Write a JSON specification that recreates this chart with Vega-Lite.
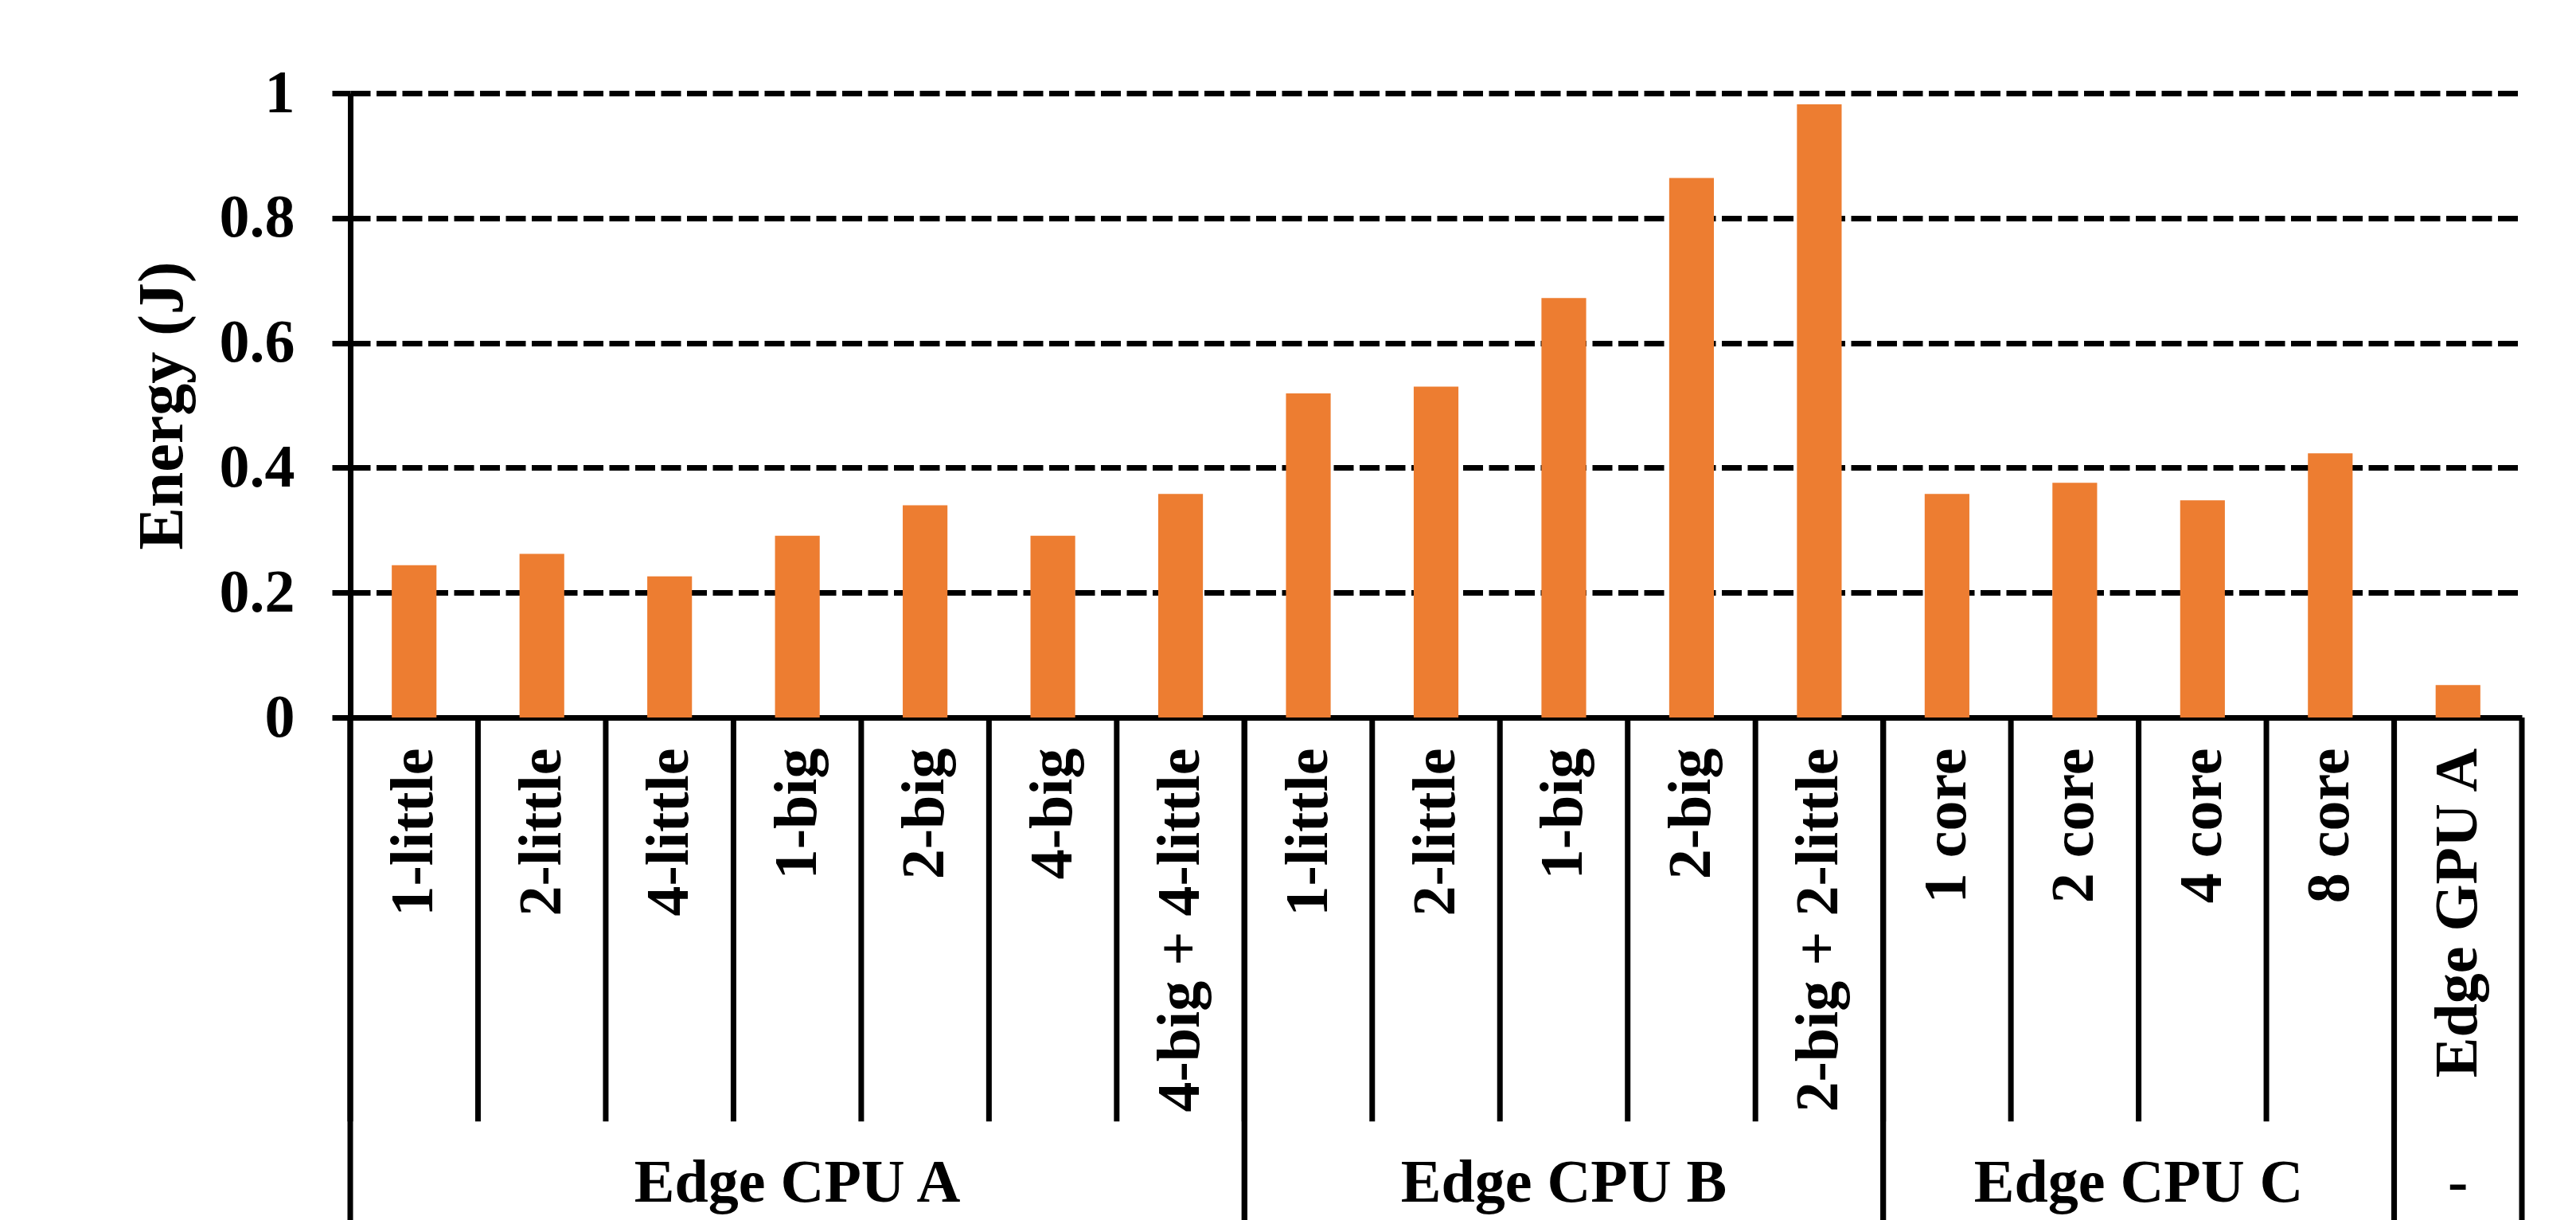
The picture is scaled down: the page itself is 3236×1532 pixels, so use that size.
{
  "$schema": "https://vega.github.io/schema/vega-lite/v6.json",
  "width": 2728,
  "height": 784,
  "autosize": {"type": "none"},
  "padding": {"left": 440, "top": 117, "right": 68, "bottom": 631},
  "background": "white",
  "config": {
    "view": {"stroke": null},
    "font": "Liberation Serif"
  },
  "datasets": {
    "energy": [
      {"id": "A|1-little", "group": "Edge CPU A", "energy": 0.244},
      {"id": "A|2-little", "group": "Edge CPU A", "energy": 0.262},
      {"id": "A|4-little", "group": "Edge CPU A", "energy": 0.226},
      {"id": "A|1-big", "group": "Edge CPU A", "energy": 0.291},
      {"id": "A|2-big", "group": "Edge CPU A", "energy": 0.340},
      {"id": "A|4-big", "group": "Edge CPU A", "energy": 0.291},
      {"id": "A|4-big + 4-little", "group": "Edge CPU A", "energy": 0.358},
      {"id": "B|1-little", "group": "Edge CPU B", "energy": 0.519},
      {"id": "B|2-little", "group": "Edge CPU B", "energy": 0.530},
      {"id": "B|1-big", "group": "Edge CPU B", "energy": 0.672},
      {"id": "B|2-big", "group": "Edge CPU B", "energy": 0.864},
      {"id": "B|2-big + 2-little", "group": "Edge CPU B", "energy": 0.982},
      {"id": "C|1 core", "group": "Edge CPU C", "energy": 0.358},
      {"id": "C|2 core", "group": "Edge CPU C", "energy": 0.376},
      {"id": "C|4 core", "group": "Edge CPU C", "energy": 0.348},
      {"id": "C|8 core", "group": "Edge CPU C", "energy": 0.423},
      {"id": "G|Edge GPU A", "group": "-", "energy": 0.052}
    ],
    "groups": [
      {"group": "Edge CPU A", "first": "A|1-little", "last": "A|4-big + 4-little", "mid": "A|1-big"},
      {"group": "Edge CPU B", "first": "B|1-little", "last": "B|2-big + 2-little", "mid": "B|1-big"},
      {"group": "Edge CPU C", "first": "C|1 core", "last": "C|8 core", "mid": "C|4 core"},
      {"group": "-", "first": "G|Edge GPU A", "last": "G|Edge GPU A", "mid": "G|Edge GPU A"}
    ]
  },
  "layer": [
    {
      "data": {"name": "energy"},
      "mark": {"type": "bar", "color": "#ED7D31", "width": {"band": 0.35}},
      "encoding": {
        "x": {
          "field": "id",
          "type": "nominal",
          "sort": null,
          "scale": {
            "domain": ["A|1-little", "A|2-little", "A|4-little", "A|1-big", "A|2-big", "A|4-big", "A|4-big + 4-little", "B|1-little", "B|2-little", "B|1-big", "B|2-big", "B|2-big + 2-little", "C|1 core", "C|2 core", "C|4 core", "C|8 core", "G|Edge GPU A"],
            "paddingInner": 0,
            "paddingOuter": 0
          },
          "axis": {
            "title": null,
            "ticks": false,
            "grid": false,
            "labelAngle": -90,
            "labelExpr": "split(datum.label, '|')[1]",
            "labelFont": "Liberation Serif",
            "labelFontWeight": "bold",
            "labelFontSize": 76,
            "labelColor": "black",
            "labelPadding": 38,
            "labelLimit": 2000,
            "labelOverlap": false,
            "domainColor": "black",
            "domainWidth": 7
          }
        },
        "y": {
          "field": "energy",
          "type": "quantitative",
          "scale": {"domain": [0, 1], "nice": false, "zero": true},
          "axis": {
            "title": "Energy (J)",
            "values": [0, 0.2, 0.4, 0.6, 0.8, 1],
            "format": ".1~f",
            "grid": true,
            "gridColor": "black",
            "gridWidth": 7,
            "gridDash": [25, 7.5],
            "gridOpacity": 1,
            "domainColor": "black",
            "domainWidth": 7,
            "tickColor": "black",
            "tickWidth": 7,
            "tickSize": 23,
            "labelFont": "Liberation Serif",
            "labelFontWeight": "bold",
            "labelFontSize": 76,
            "labelColor": "black",
            "labelPadding": 47,
            "titleFont": "Liberation Serif",
            "titleFontWeight": "bold",
            "titleFontSize": 80,
            "titleColor": "black",
            "titlePadding": 30
          }
        }
      }
    },
    {
      "data": {"name": "energy"},
      "mark": {"type": "rule", "color": "black", "strokeWidth": 7},
      "encoding": {
        "x": {"field": "id", "type": "nominal", "bandPosition": 0},
        "y": {"datum": 0},
        "y2": {"datum": -0.647}
      }
    },
    {
      "data": {"name": "groups"},
      "mark": {"type": "rule", "color": "black", "strokeWidth": 7},
      "encoding": {
        "x": {"field": "first", "type": "nominal", "bandPosition": 0},
        "y": {"datum": 0},
        "y2": {"datum": -0.85}
      }
    },
    {
      "data": {"name": "groups"},
      "mark": {"type": "rule", "color": "black", "strokeWidth": 7},
      "encoding": {
        "x": {"field": "last", "type": "nominal", "bandPosition": 1},
        "y": {"datum": 0},
        "y2": {"datum": -0.85}
      }
    },
    {
      "data": {"name": "groups"},
      "transform": [{"filter": "datum.group !== 'Edge CPU C'"}],
      "mark": {"type": "text", "font": "Liberation Serif", "fontWeight": "bold", "fontSize": 76, "color": "black", "align": "center", "baseline": "alphabetic"},
      "encoding": {
        "x": {"field": "mid", "type": "nominal", "bandPosition": 0.5},
        "y": {"datum": -0.776},
        "text": {"field": "group"}
      }
    },
    {
      "data": {"name": "groups"},
      "transform": [{"filter": "datum.group === 'Edge CPU C'"}],
      "mark": {"type": "text", "font": "Liberation Serif", "fontWeight": "bold", "fontSize": 76, "color": "black", "align": "center", "baseline": "alphabetic"},
      "encoding": {
        "x": {"field": "mid", "type": "nominal", "bandPosition": 0},
        "y": {"datum": -0.776},
        "text": {"field": "group"}
      }
    }
  ]
}
